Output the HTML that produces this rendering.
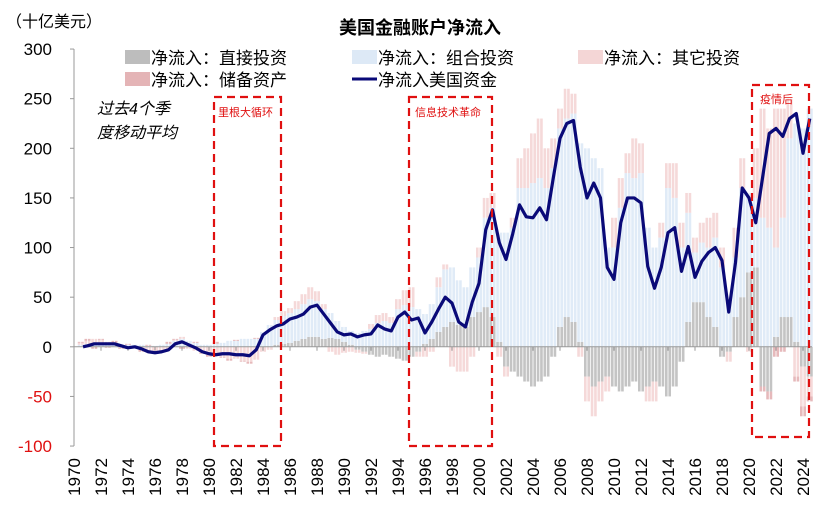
<!DOCTYPE html>
<html><head><meta charset="utf-8"><style>
body{margin:0;background:#fff;}
svg{display:block;font-family:"Liberation Sans","Noto Sans CJK SC",sans-serif;}
</style></head><body>
<svg id="chart" width="836" height="510" viewBox="0 0 836 510">
<text x="6" y="27" font-size="16" fill="#000">（十亿美元）</text>
<text x="420" y="34" font-size="18" font-weight="bold" text-anchor="middle">美国金融账户净流入</text>
<g id="legend" font-size="17">
<g><rect x="125" y="50" width="25" height="14" fill="#bdbdbd"/><text x="151" y="64">净流入：直接投资</text></g>
<g><rect x="352" y="50" width="25" height="14" fill="#dde9f6"/><text x="378" y="64">净流入：组合投资</text></g>
<g><rect x="578" y="50" width="25" height="14" fill="#f4d6d6"/><text x="604" y="64">净流入：其它投资</text></g>
<g><rect x="125" y="72" width="25" height="14" fill="#e4b4b6"/><text x="151" y="86">净流入：储备资产</text></g>
<g><line x1="352" y1="79" x2="377" y2="79" stroke="#0a0a78" stroke-width="3"/><text x="378" y="86">净流入美国资金</text></g>
</g>
<g font-size="16" font-style="italic">
<text x="97" y="114">过去4个季</text><text x="97" y="138">度移动平均</text>
</g>
<g id="bars"></g>
<g id="axes"></g>
<path id="line" fill="none" stroke="#0a0a78" stroke-width="3.2" stroke-linejoin="round"/>
<g fill="none" stroke="#e01010" stroke-width="2.2" stroke-dasharray="8,5">
<rect x="214" y="97" width="67" height="349"/>
<rect x="409" y="97" width="83" height="349"/>
<rect x="752" y="85" width="57" height="352"/>
</g>
<g font-size="11" fill="#e01010">
<text x="218" y="116">里根大循环</text>
<text x="415" y="116">信息技术革命</text>
<text x="760" y="103">疫情后</text>
</g>
</svg>
<script>
const periods0 = 1970.5; // half-year periods
const lineVals = [0,1,3,3,3,3,1,-1,0,-2,-5,-6,-5,-3,3,5,2,-1,-5,-7,-8,-7,-7,-8,-8,-9,-3,12,17,21,23,28,30,33,40,42,33,24,15,12,13,10,12,13,22,18,16,30,35,27,29,14,25,38,50,44,25,20,45,64,118,138,105,88,114,143,131,130,140,128,170,210,225,228,181,150,165,150,80,68,125,150,150,145,81,59,80,115,120,76,101,70,86,95,100,87,35,85,160,150,125,170,215,220,212,230,235,195,230];
const direct = [0,0,0,0,0,0,0,0,0,0,0,0,0,0,0,0,0,0,0,0,0,0,0,0,0,0,0,0,0,2,3,4,6,8,10,10,8,9,8,5,2,-3,-5,-8,-10,-8,-10,-12,-14,-10,-5,3,8,15,20,25,22,20,30,35,40,30,5,-20,-25,-30,-35,-40,-35,-30,-10,20,30,25,5,-30,-40,-35,-30,-40,-45,-40,-35,-45,-40,-35,-40,-50,-40,-15,25,45,45,30,20,-10,-5,30,50,75,80,-40,-45,10,30,30,5,-20,-30];
const portfolio = [2,3,4,4,3,3,2,2,2,2,1,1,2,3,6,8,6,4,2,2,3,4,6,6,8,8,8,15,22,25,28,30,32,35,38,36,30,25,18,15,14,14,16,18,24,26,24,38,42,40,38,30,35,45,58,55,45,40,50,55,90,110,110,115,120,160,160,165,170,160,180,200,200,210,200,200,190,180,100,100,140,175,170,175,120,100,110,160,150,100,110,50,60,70,90,80,45,60,110,80,70,130,120,90,100,180,220,220,240];
const other = [2,3,4,3,2,1,-1,-2,0,-3,-4,-5,-4,-3,1,2,-2,-4,-6,-8,-9,-10,-12,-12,-14,-15,-13,-5,-3,3,5,5,8,10,12,10,5,-5,-8,-6,-5,-3,-2,5,8,8,6,10,15,20,-5,-10,-5,10,5,-20,-25,-25,-10,10,20,15,-10,-10,10,30,40,50,60,40,30,20,30,20,-10,-25,-30,-20,-15,30,30,20,40,30,-15,-20,15,25,35,25,20,15,20,30,25,20,-10,30,30,-5,50,110,100,140,110,40,-30,-40,-20];
const reserve = [1,2,-2,1,-1,2,-1,1,0,-2,1,-1,0,2,1,-2,0,1,-1,-2,2,-1,-2,1,-1,-2,1,0,0,0,0,0,0,0,0,0,0,0,0,0,0,0,0,0,0,0,0,0,0,0,0,0,0,0,0,0,0,0,0,0,0,0,0,0,0,0,0,0,0,0,0,0,0,0,0,0,0,0,0,0,0,0,0,0,0,0,0,0,0,0,0,0,0,0,0,0,0,0,0,0,0,-5,-8,-10,-5,0,-5,-10,-5];
const yTicks = [300,250,200,150,100,50,0,-50,-100];
const xYears = [1970,1972,1974,1976,1978,1980,1982,1984,1986,1988,1990,1992,1994,1996,1998,2000,2002,2004,2006,2008,2010,2012,2014,2016,2018,2020,2022,2024];

const NS="http://www.w3.org/2000/svg";
function xs(t){return 74+(t-1970)*13.5;}
function ys(v){return 346.8-v*0.9925;}
function mk(tag,attrs,parent){const e=document.createElementNS(NS,tag);for(const k in attrs)e.setAttribute(k,attrs[k]);parent.appendChild(e);return e;}
const bars=document.getElementById('bars');


const series=[[direct,'#c4c4c4','direct'],[portfolio,'#e0ebf7','portfolio'],[other,'#f5d9d9','other'],[reserve,'#e6b9bb','reserve']];
const bw=2.6;
for(let i=0;i<lineVals.length;i++){
  const t=periods0+0.5*i;
  const cx=xs(t);
  let pos=0,neg=0;
  for(const [arr,col,nm] of series){
    const v=arr[i]||0; if(v===0) continue;
    let y0,y1;
    if(v>0){y0=pos;y1=pos+v;pos=y1;}else{y0=neg;y1=neg+v;neg=y1;}
    for(const off of [-1.7,1.7]){
      const r=mk('rect',{x:(cx+off-bw/2).toFixed(2),y:Math.min(ys(y0),ys(y1)).toFixed(2),width:bw,height:Math.abs(ys(y1)-ys(y0)).toFixed(2),fill:col},bars);
      
      
    }
  }
}
const ax=document.getElementById('axes');


const yl=mk('line',{x1:74,y1:ys(300),x2:74,y2:ys(-100),stroke:'#999','stroke-width':1},ax);


for(const v of yTicks){
  mk('line',{x1:70,y1:ys(v),x2:74,y2:ys(v),stroke:'#999'},ax);
  const tx=mk('text',{x:52,y:ys(v)+6,'font-size':17,'text-anchor':'end',fill:v<0?'#e01010':'#000'},ax);
  tx.textContent=v;
  
  
}
const zl=mk('line',{x1:74,y1:ys(0),x2:812,y2:ys(0),stroke:'#999','stroke-width':1},ax);


for(const yr of xYears){
  const x=xs(yr);
  mk('line',{x1:x,y1:ys(0),x2:x,y2:ys(0)+4,stroke:'#999'},ax);
  const tx=mk('text',{x:0,y:0,'font-size':17,'text-anchor':'end',transform:`translate(${x+6},458) rotate(-90)`},ax);
  tx.textContent=yr;
  
  
}
let d='';
lineVals.forEach((v,i)=>{const t=Math.max(periods0+0.5*i,1970.67);d+=(i?'L':'M')+xs(t).toFixed(2)+' '+ys(v).toFixed(2);});
document.getElementById('line').setAttribute('d',d);
</script>
</body></html>
